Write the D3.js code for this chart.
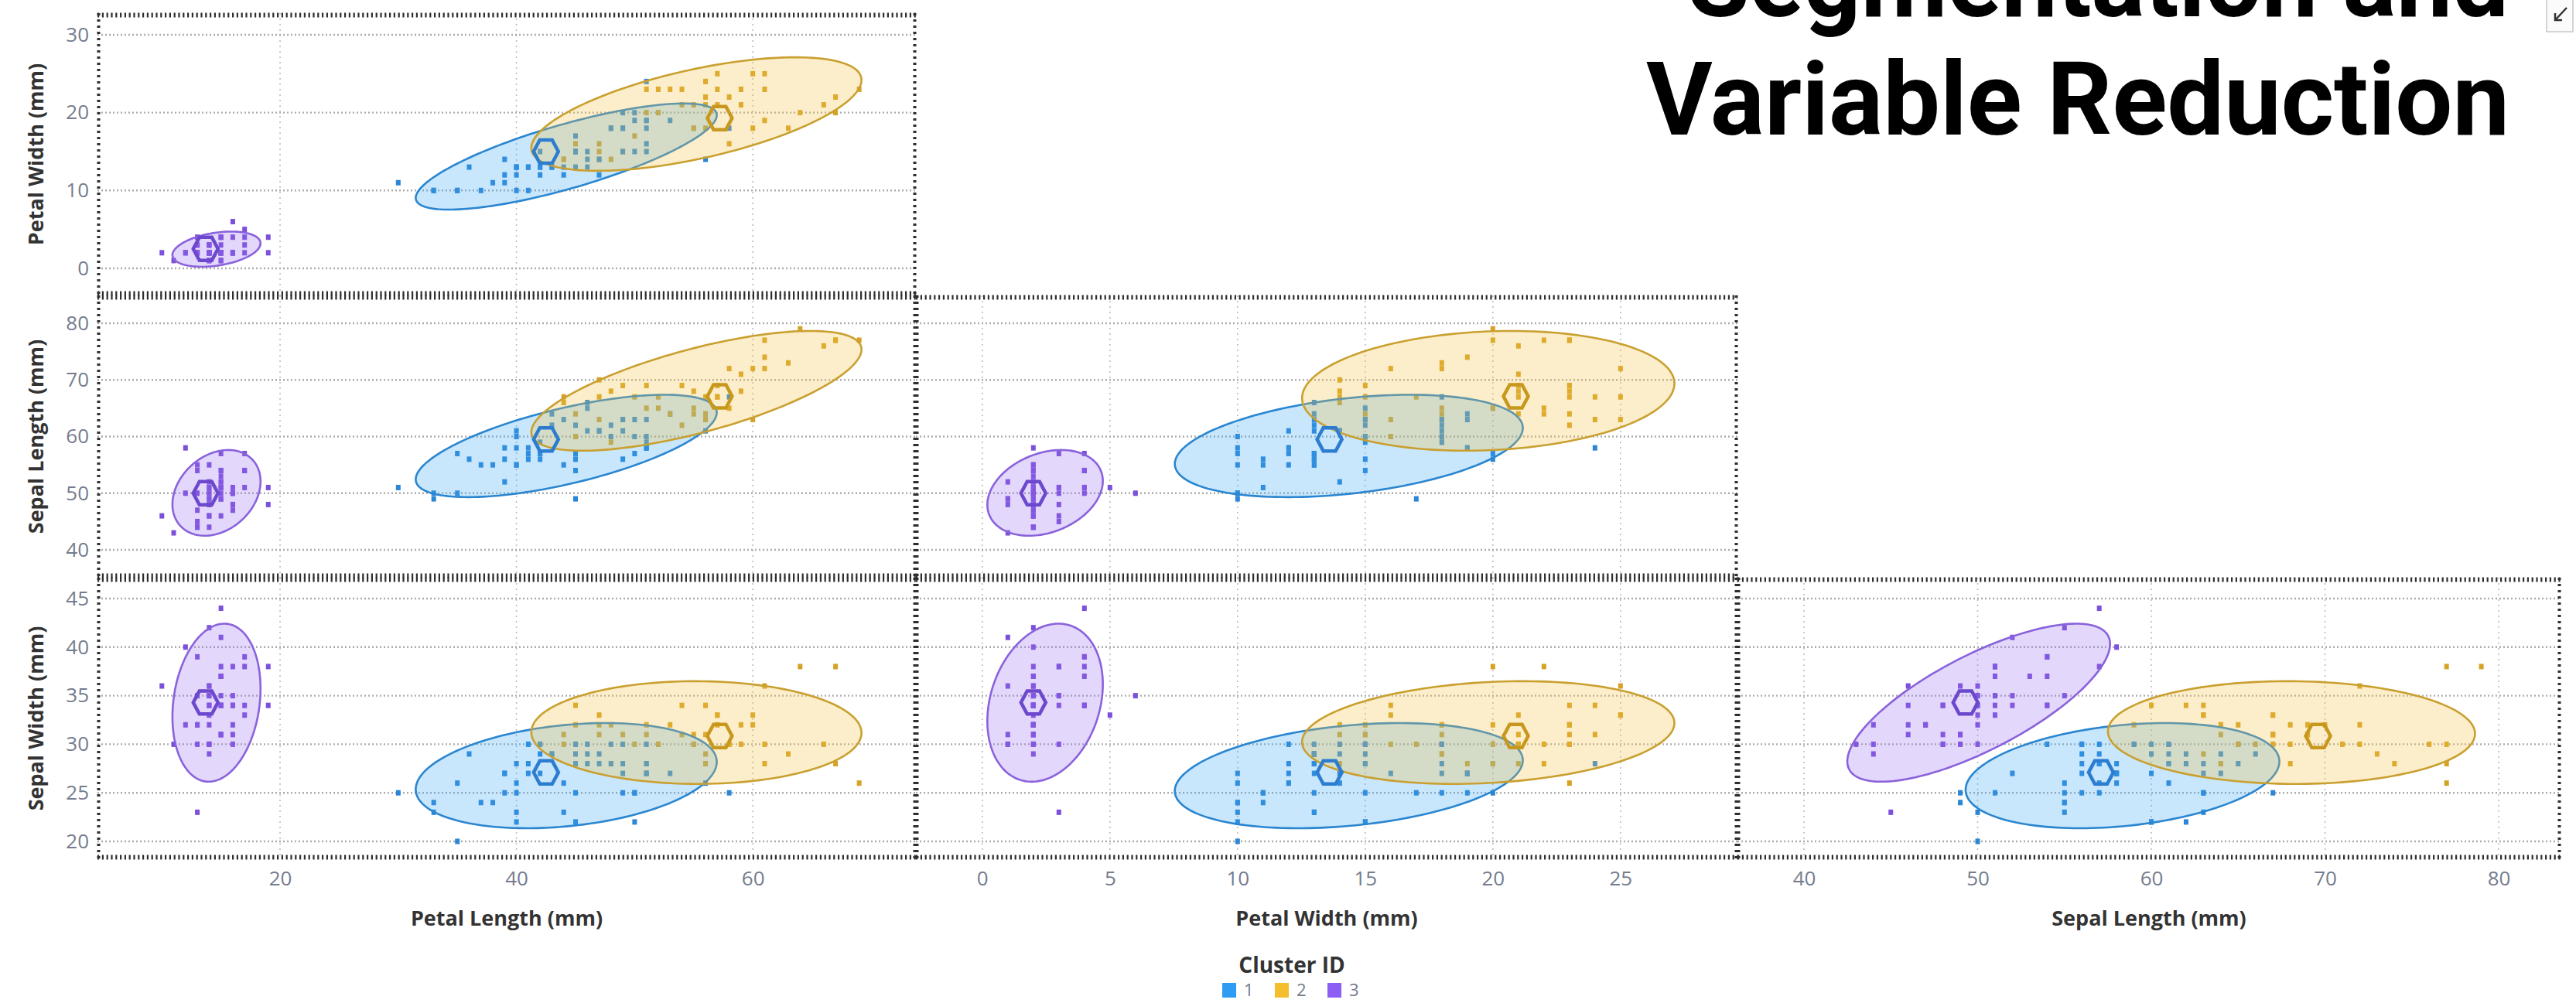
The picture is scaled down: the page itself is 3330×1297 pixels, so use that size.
<!DOCTYPE html>
<html>
<head>
<meta charset="utf-8">
<script src="https://cdn.jsdelivr.net/npm/d3@7/dist/d3.min.js"></script>
<style>
	html, body { margin: 0; padding: 0; background: #fff; }
	svg { display: block; }
</style>
</head>
<body>
<script>
(function() {

	// Iris measurements (mm), rows 1-50 / 51-100 / 101-150
	var sepalLength = [
		51,49,47,46,50,54,46,50,44,49,54,48,48,43,58,57,54,51,57,51,54,51,46,51,48,50,50,52,52,47,48,54,52,55,49,50,55,49,44,51,50,45,44,50,51,48,51,46,53,50,
		70,64,69,55,65,57,63,49,66,52,50,59,60,61,56,67,56,58,62,56,59,61,63,61,64,66,68,67,60,57,55,55,58,60,54,60,67,63,56,55,55,61,58,50,56,57,57,62,51,57,
		63,58,71,63,65,76,49,73,67,72,65,64,68,57,58,64,65,77,77,60,69,56,77,63,67,72,62,61,64,72,74,79,64,63,61,77,63,64,60,69,67,69,58,68,67,67,63,65,62,59];
	var sepalWidth = [
		35,30,32,31,36,39,34,34,29,31,37,34,30,30,40,44,39,35,38,38,34,37,36,33,34,30,34,35,34,32,31,34,41,42,31,32,35,36,30,34,35,23,32,35,38,30,38,32,37,33,
		32,32,31,23,28,28,33,24,29,27,20,30,22,29,29,31,30,27,22,25,32,28,25,28,29,30,28,30,29,26,24,24,27,27,30,34,31,23,30,25,26,30,26,23,27,30,29,29,25,28,
		33,27,30,29,30,30,25,29,25,36,32,27,30,25,28,32,30,38,26,22,32,28,28,27,33,32,28,30,28,30,28,38,28,28,26,30,34,31,30,31,31,31,27,32,33,30,25,30,34,30];
	var petalLength = [
		14,14,13,15,14,17,14,15,14,15,15,16,14,11,12,15,13,14,17,15,17,15,10,17,19,16,16,15,14,16,16,15,15,14,15,12,13,14,13,15,13,13,13,16,19,14,16,14,15,14,
		47,45,49,40,46,45,47,33,46,39,35,42,40,47,36,44,45,41,45,39,48,40,49,47,43,44,48,50,45,35,38,37,39,51,45,45,47,44,41,40,44,46,40,33,42,42,42,43,30,41,
		60,51,59,56,58,66,45,63,58,61,51,53,55,50,51,53,55,67,69,50,57,49,67,49,57,60,48,49,56,58,61,64,56,51,56,61,56,55,48,54,56,51,51,59,57,52,50,52,54,51];
	var petalWidth = [
		2,2,2,2,2,4,3,2,2,1,2,2,1,1,2,4,4,3,3,3,2,4,2,5,2,2,4,2,2,2,2,4,1,2,2,2,2,1,2,2,3,3,2,6,4,3,2,2,2,2,
		14,15,15,13,15,13,16,10,13,14,10,15,10,14,13,14,15,10,15,11,18,13,15,12,13,14,14,17,15,10,11,10,12,16,15,16,15,13,13,13,12,14,12,10,13,12,13,13,11,13,
		25,19,21,18,22,21,17,18,18,25,20,19,21,20,24,23,18,22,23,15,23,20,20,18,21,18,18,18,21,16,19,20,22,15,14,23,24,18,18,21,24,23,19,23,25,23,19,20,23,18];
	var clusterId = [
		3,3,3,3,3,3,3,3,3,3,3,3,3,3,3,3,3,3,3,3,3,3,3,3,3,3,3,3,3,3,3,3,3,3,3,3,3,3,3,3,3,3,3,3,3,3,3,3,3,3,
		2,2,2,1,1,1,2,1,1,1,1,1,1,1,1,2,1,1,1,1,2,1,1,1,1,2,2,2,1,1,1,1,1,1,1,2,2,1,1,1,1,1,1,1,1,1,1,1,1,1,
		2,1,2,2,2,2,1,2,1,2,2,1,2,1,1,2,2,2,2,1,2,1,2,1,2,2,1,1,2,2,2,2,2,1,1,2,2,2,1,2,2,2,1,2,2,2,1,2,2,1];

	var clusters = [1, 2, 3];

	// cluster centroid markers, read per axis (cluster 1, 2, 3)
	var centroidX = { PL: [42.5, 57.2, 13.7], PW: [13.6, 20.9, 2.0], SL: [57.1, 69.6, 49.3] };
	var centroidY = { PW: [15.0, 19.3, 2.5], SL: [59.5, 67.1, 50.0], SW: [27.1, 30.85, 34.3] };

	var colVars = ['PL', 'PW', 'SL'];
	var rowVars = ['PW', 'SL', 'SW'];
	var colTitles = ['Petal Length (mm)', 'Petal Width (mm)', 'Sepal Length (mm)'];
	var rowTitles = ['Petal Width (mm)', 'Sepal Length (mm)', 'Sepal Width (mm)'];
	var colTicks = [[20, 40, 60], [0, 5, 10, 15, 20, 25], [40, 50, 60, 70, 80]];
	var rowTicks = [[0, 10, 20, 30], [40, 50, 60, 70, 80], [20, 25, 30, 35, 40, 45]];

	var values = { PL: petalLength, PW: petalWidth, SL: sepalLength, SW: sepalWidth };

	var _width = 3330;
	var _height = 1297;
	var _colEdges = [126, 1184, 2246, 3310];
	var _rowEdges = [17, 382, 747, 1111];
	var _colDomains = [[4.55, 73.8], [-2.6, 29.58], [36.17, 83.56]];
	var _rowDomains = [[-3.48, 32.78], [35.09, 84.91], [18.17, 47.15]];

	var pointColor = ['#2b86d6', '#d6a226', '#7b50da'];
	var fillColor = ['#3aa6f5', '#f5c23f', '#9b6ef0'];
	var strokeColor = ['#2a86d0', '#c9a030', '#8a62dc'];
	var hexColor = ['#2c7dd0', '#c8981e', '#6c48cc'];
	var legendColor = ['#2f9cf4', '#f4be2c', '#8d5ef3'];
	var font = '"Open Sans", Lato, sans-serif';

	var xScales = colVars.map(function(v, c) {
		return d3.scaleLinear().domain(_colDomains[c]).range([_colEdges[c], _colEdges[c + 1]]);
	});
	var yScales = rowVars.map(function(v, r) {
		return d3.scaleLinear().domain(_rowDomains[r]).range([_rowEdges[r + 1], _rowEdges[r]]);
	});

	var svg = d3.select('body').append('svg')
		.attr('width', _width)
		.attr('height', _height);
	var defs = svg.append('defs');

	// 90% normal ellipse of one cluster in one pair of variables
	function ellipse(xs, ys) {
		var mx = d3.mean(xs), my = d3.mean(ys);
		var sx = d3.deviation(xs), sy = d3.deviation(ys);
		var cov = d3.sum(xs, function(v, i) { return (v - mx) * (ys[i] - my); }) / (xs.length - 1);
		var rho = cov / (sx * sy);
		var k = Math.sqrt(-2 * Math.log(0.1));
		return d3.range(0, 160).map(function(j) {
			var t = j / 160 * 2 * Math.PI;
			return [mx + k * sx * Math.cos(t),
				my + k * sy * (rho * Math.cos(t) + Math.sqrt(1 - rho * rho) * Math.sin(t))];
		});
	}

	function hexagon(r) {
		return d3.range(6).map(function(i) {
			var a = i * Math.PI / 3;
			return [r * Math.cos(a), r * Math.sin(a) * 1.08];
		});
	}

	// Panels (lower triangle)
	for (var row = 0; row < 3; ++row) {
		for (var col = 0; col <= row; ++col) {
			var x = xScales[col], y = yScales[row];
			var xv = colVars[col], yv = rowVars[row];
			var x0 = _colEdges[col], x1 = _colEdges[col + 1];
			var y0 = _rowEdges[row], y1 = _rowEdges[row + 1];
			var id = 'clip' + row + col;

			defs.append('clipPath').attr('id', id)
				.append('rect').attr('x', x0).attr('y', y0).attr('width', x1 - x0).attr('height', y1 - y0);

			var g = svg.append('g').attr('clip-path', 'url(#' + id + ')');

			// Grid
			g.selectAll('line.vgrid').data(colTicks[col]).enter().append('line')
				.attr('x1', function(d) { return x(d); }).attr('x2', function(d) { return x(d); })
				.attr('y1', y0).attr('y2', y1)
				.attr('stroke', '#bdbdbd').attr('stroke-width', 1.6).attr('stroke-dasharray', '2 5');
			g.selectAll('line.hgrid').data(rowTicks[row]).enter().append('line')
				.attr('x1', x0).attr('x2', x1)
				.attr('y1', function(d) { return y(d); }).attr('y2', function(d) { return y(d); })
				.attr('stroke', '#acacac').attr('stroke-width', 2.4).attr('stroke-dasharray', '2 3');

			// Points
			var xs = values[xv], ys = values[yv];
			g.selectAll('rect.pt').data(d3.range(xs.length)).enter().append('rect')
				.attr('x', function(i) { return x(xs[i]) - 3; })
				.attr('y', function(i) { return y(ys[i]) - 3.5; })
				.attr('width', 6).attr('height', 7)
				.attr('fill', function(i) { return pointColor[clusterId[i] - 1]; });

			// Ellipses
			var line = d3.line()
				.x(function(d) { return x(d[0]); })
				.y(function(d) { return y(d[1]); })
				.curve(d3.curveLinearClosed);
			clusters.forEach(function(c, ci) {
				var idx = d3.range(xs.length).filter(function(i) { return clusterId[i] === c; });
				var pts = ellipse(idx.map(function(i) { return xs[i]; }), idx.map(function(i) { return ys[i]; }));
				g.append('path')
					.attr('d', line(pts))
					.attr('fill', fillColor[ci]).attr('fill-opacity', 0.28)
					.attr('stroke', strokeColor[ci]).attr('stroke-width', 2.6);
			});

			// Centroids
			clusters.forEach(function(c, ci) {
				g.append('polygon')
					.attr('points', hexagon(16).map(function(p) { return p.join(','); }).join(' '))
					.attr('transform', 'translate(' + x(centroidX[xv][ci]) + ',' + y(centroidY[yv][ci]) + ')')
					.attr('fill', 'none').attr('stroke', hexColor[ci]).attr('stroke-width', 4.5);
			});

			// Frame
			var frame = svg.append('g').attr('stroke', '#2e2e2e');
			frame.append('line').attr('x1', x0).attr('x2', x1).attr('y1', y0 + 2.5).attr('y2', y0 + 2.5)
				.attr('stroke-width', 6).attr('stroke-dasharray', '2.2 3.6');
			frame.append('line').attr('x1', x0).attr('x2', x1).attr('y1', y1 - 2.5).attr('y2', y1 - 2.5)
				.attr('stroke-width', 6).attr('stroke-dasharray', '2.2 3.6');
			frame.append('line').attr('x1', x0 + 1.5).attr('x2', x0 + 1.5).attr('y1', y0).attr('y2', y1)
				.attr('stroke-width', 4).attr('stroke-dasharray', '3 5');
			frame.append('line').attr('x1', x1 - 1.5).attr('x2', x1 - 1.5).attr('y1', y0).attr('y2', y1)
				.attr('stroke-width', 4).attr('stroke-dasharray', '3 5');
		}
	}

	// Y axes (left column)
	rowVars.forEach(function(v, r) {
		var ax = svg.append('g')
			.attr('transform', 'translate(' + _colEdges[0] + ',0)')
			.call(d3.axisLeft(yScales[r]).tickValues(rowTicks[r]).tickSize(0).tickPadding(11));
		ax.select('.domain').remove();
		ax.selectAll('text').attr('font-family', font).attr('font-size', 26).attr('fill', '#747c8e');

		var cy = (_rowEdges[r] + _rowEdges[r + 1]) / 2;
		svg.append('text')
			.attr('transform', 'translate(56,' + cy + ') rotate(-90)')
			.attr('text-anchor', 'middle')
			.attr('font-family', font).attr('font-weight', 700).attr('font-size', 27)
			.attr('fill', '#333')
			.text(rowTitles[r]);
	});

	// X axes (bottom row)
	colVars.forEach(function(v, c) {
		var ax = svg.append('g')
			.attr('transform', 'translate(0,' + _rowEdges[3] + ')')
			.call(d3.axisBottom(xScales[c]).tickValues(colTicks[c]).tickSize(0).tickPadding(16));
		ax.select('.domain').remove();
		ax.selectAll('text').attr('font-family', font).attr('font-size', 26).attr('fill', '#747c8e');

		svg.append('text')
			.attr('x', (_colEdges[c] + _colEdges[c + 1]) / 2).attr('y', 1197)
			.attr('text-anchor', 'middle')
			.attr('font-family', font).attr('font-weight', 700).attr('font-size', 27)
			.attr('fill', '#333')
			.text(colTitles[c]);
	});

	// Legend
	svg.append('text')
		.attr('x', 1670).attr('y', 1258)
		.attr('text-anchor', 'middle')
		.attr('font-family', font).attr('font-weight', 700).attr('font-size', 28)
		.attr('fill', '#333')
		.text('Cluster ID');
	var items = svg.selectAll('g.legend').data(clusters).enter().append('g')
		.attr('transform', function(d, i) { return 'translate(' + (1580 + i * 68) + ',1271)'; });
	items.append('rect')
		.attr('width', 18).attr('height', 19)
		.attr('fill', function(d, i) { return legendColor[i]; });
	items.append('text')
		.attr('x', 28).attr('y', 17)
		.attr('font-family', font).attr('font-size', 22).attr('fill', '#747c8e')
		.text(function(d) { return d; });

	// Title
	var title = svg.append('g')
		.attr('font-family', 'Roboto, "Liberation Sans", sans-serif')
		.attr('font-weight', 700).attr('font-size', 131).attr('fill', '#000');
	title.append('text').attr('x', 2182).attr('y', 21)
		.attr('textLength', 1061).attr('lengthAdjust', 'spacingAndGlyphs')
		.text('Segmentation and');
	title.append('text').attr('x', 2128).attr('y', 174)
		.attr('textLength', 1116).attr('lengthAdjust', 'spacingAndGlyphs')
		.text('Variable Reduction');

	// small corner button
	var btn = svg.append('g');
	btn.append('rect').attr('x', 3292).attr('y', -4).attr('width', 34).attr('height', 45)
		.attr('fill', '#fbfbfb').attr('stroke', '#c8c8c8').attr('stroke-width', 1.5);
	btn.append('path').attr('d', 'M3318,10 L3303,26 M3303,17 L3303,26 L3312,26')
		.attr('fill', 'none').attr('stroke', '#333').attr('stroke-width', 2.5);

})();
</script>
</body>
</html>
